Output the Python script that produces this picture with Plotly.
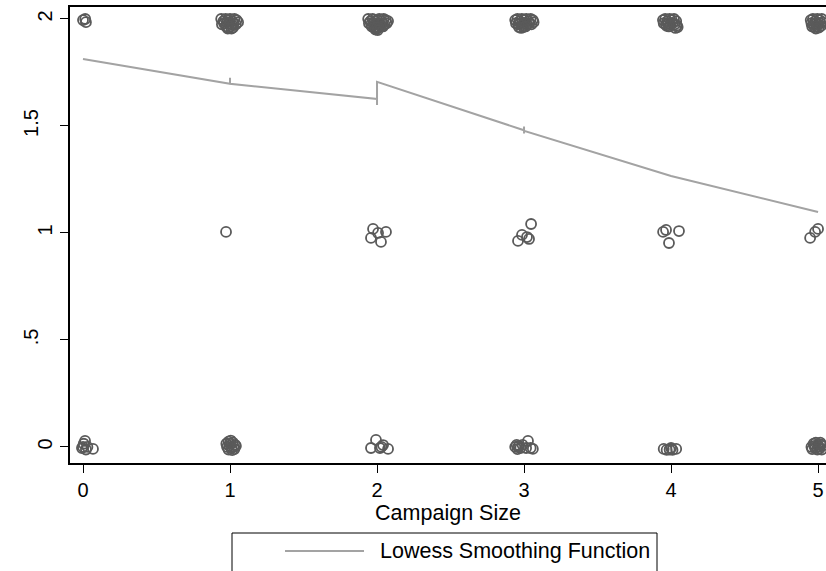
import plotly.graph_objects as go

# Observed outcomes (0, 1, 2) plotted against campaign size, with jitter
zero_x = [0.014, 0.0, 0.068, 0.02, -0.007, 0.005, 0.03,
          0.975, 0.99, 1.005, 1.02, 1.035, 0.98, 0.995, 1.01, 1.025, 1.04, 0.99, 1.015, 1.0, 1.03,
          1.993, 1.959, 2.02, 2.075, 2.041, 2.03,
          2.94, 2.95, 2.955, 2.965, 2.975, 2.96, 3.027, 3.014, 3.045, 3.06, 2.99,
          3.95, 3.97, 3.99, 4.01, 4.035, 4.0,
          4.955, 4.97, 4.985, 5.0, 5.015, 5.03, 4.96, 4.98, 4.995, 5.01, 5.025, 4.975, 5.005, 5.02]
zero_y = [0.028, 0.0, -0.009, -0.012, -0.005, 0.015, 0.0,
          0.015, 0.025, 0.03, 0.02, 0.01, 0.0, 0.005, -0.005, 0.0, 0.005, -0.012, -0.015, 0.015, -0.01,
          0.033, -0.005, -0.005, -0.009, 0.009, 0.0,
          0.0, 0.01, -0.01, 0.005, -0.005, 0.0, 0.028, -0.005, -0.005, -0.009, 0.01,
          -0.009, -0.014, -0.012, -0.014, -0.009, -0.005,
          0.0, 0.015, 0.02, 0.01, 0.02, 0.005, -0.01, -0.005, -0.012, -0.008, -0.012, 0.005, 0.0, 0.012]

one_x = [0.973,
         1.973, 1.959, 2.061, 2.027, 2.007,
         3.048, 2.959, 2.986, 3.020, 3.034,
         3.946, 3.966, 4.054, 3.986,
         4.946, 4.980, 5.0]
one_y = [1.005,
         1.019, 0.977, 1.005, 0.958, 1.0,
         1.042, 0.963, 0.991, 0.981, 0.972,
         1.005, 1.014, 1.009, 0.953,
         0.977, 1.005, 1.019]

two_x = [0.0, 0.02, 0.015,
         0.94, 0.955, 0.97, 0.985, 1.0, 1.015, 1.03, 1.045, 1.055, 0.945, 0.96, 0.98, 0.995, 1.01,
         1.025, 1.04, 0.975, 0.99, 1.005, 1.02, 0.985, 1.01,
         1.94, 1.955, 1.97, 1.985, 2.0, 2.015, 2.03, 2.045, 2.06, 2.075, 1.945, 1.96, 1.975, 1.99,
         2.005, 2.02, 2.035, 2.05, 2.065, 1.965, 1.98, 1.995, 2.01, 2.025, 2.04, 1.99, 2.005, 2.0,
         2.94, 2.955, 2.97, 2.985, 3.0, 3.015, 3.03, 3.045, 3.06, 3.065, 2.945, 2.96, 2.975, 2.99,
         3.005, 3.02, 3.035, 3.05, 2.965, 2.98, 2.995, 3.01,
         3.945, 3.96, 3.975, 3.99, 4.005, 4.02, 4.035, 3.95, 3.965, 3.98, 3.995, 4.01, 4.025, 4.04,
         4.03, 4.045, 3.985, 3.97,
         4.95, 4.965, 4.98, 4.995, 5.01, 5.025, 4.955, 4.97, 4.985, 5.0, 5.015, 5.03, 4.96, 4.975,
         4.99, 5.005, 5.02, 4.985]
two_y = [1.995, 1.985, 2.0,
         2.0, 1.99, 2.0, 1.995, 2.0, 1.99, 2.0, 1.995, 1.985, 1.975, 1.98, 1.985, 1.98, 1.975,
         1.98, 1.975, 1.965, 1.96, 1.965, 1.96, 1.955, 1.955,
         2.0, 1.99, 2.0, 1.99, 1.995, 2.0, 1.99, 2.0, 1.995, 1.99, 1.98, 1.975, 1.98, 1.975,
         1.98, 1.975, 1.98, 1.975, 1.98, 1.965, 1.96, 1.955, 1.96, 1.965, 1.965, 1.95, 1.948, 1.962,
         1.995, 2.0, 1.99, 2.0, 1.995, 2.0, 1.99, 2.0, 1.995, 1.985, 1.98, 1.975, 1.98, 1.97,
         1.98, 1.975, 1.98, 1.975, 1.962, 1.958, 1.962, 1.965,
         1.995, 2.0, 1.99, 2.0, 1.995, 2.0, 1.99, 1.98, 1.975, 1.98, 1.975, 1.98, 1.975, 1.97,
         1.958, 1.962, 1.965, 1.968,
         1.995, 2.0, 1.99, 2.0, 1.995, 2.0, 1.98, 1.975, 1.98, 1.975, 1.98, 1.985, 1.965, 1.962,
         1.965, 1.96, 1.968, 1.955]

# Lowess fit evaluated at each observation (tied x values give small vertical steps)
lowess_x = [0, 1, 1, 1, 2, 2, 2, 3, 3, 3, 3, 4, 5]
lowess_y = [1.813, 1.697, 1.725, 1.697, 1.626, 1.598, 1.706, 1.48, 1.497, 1.465, 1.477, 1.266, 1.098]

x_tick_vals = [0, 1, 2, 3, 4, 5]
y_tick_vals = [0, 0.5, 1, 1.5, 2]
y_tick_text = ["0", ".5", "1", "1.5", "2"]

FONT = "Liberation Sans, Arial, sans-serif"
MARKER_COLOR = "#5a5a5a"
LINE_COLOR = "#a3a3a3"

fig = go.Figure()

fig.add_trace(go.Scatter(
    x=zero_x + one_x + two_x,
    y=zero_y + one_y + two_y,
    mode="markers",
    marker=dict(symbol="circle-open", size=10, color=MARKER_COLOR,
                line=dict(width=1.8, color=MARKER_COLOR)),
    showlegend=False,
    hoverinfo="x+y",
))

fig.add_trace(go.Scatter(
    x=lowess_x, y=lowess_y,
    mode="lines",
    line=dict(color=LINE_COLOR, width=2),
    name="Lowess Smoothing Function",
    showlegend=False,
    yaxis="y2",
))

y_range = [-0.075, 2.056]

# Alternate the y labels: whole numbers close to the axis, halves set further out
main_text = [t if v in (0, 1, 2) else "" for v, t in zip(y_tick_vals, y_tick_text)]
half_vals = [v for v in y_tick_vals if v not in (0, 1, 2)]
half_text = [t for v, t in zip(y_tick_vals, y_tick_text) if v not in (0, 1, 2)]

fig.update_layout(
    width=826, height=571,
    autosize=False,
    margin=dict(l=70, r=0, t=7, b=108),
    paper_bgcolor="white",
    plot_bgcolor="white",
    font=dict(family=FONT, color="black", size=20),
    xaxis=dict(
        range=[-0.0884, 5.054],
        tickvals=x_tick_vals,
        ticks="outside", ticklen=8, tickwidth=1, tickcolor="black",
        showline=True, linecolor="black", linewidth=1.5, mirror=True,
        showgrid=False, zeroline=False,
        tickfont=dict(size=20),
        title=dict(text="Campaign Size", font=dict(size=21.5), standoff=0),
    ),
    yaxis=dict(
        range=y_range,
        tickvals=y_tick_vals, ticktext=main_text,
        tickangle=-90,
        ticks="outside", ticklen=8, tickwidth=1, tickcolor="black",
        showline=True, linecolor="black", linewidth=1.5,
        showgrid=False, zeroline=False,
        tickfont=dict(size=20),
    ),
    yaxis2=dict(
        range=y_range, overlaying="y", side="left",
        tickvals=half_vals, ticktext=half_text,
        tickangle=-90,
        ticks="", showline=False, showgrid=False, zeroline=False,
        ticklabelstandoff=27,
        tickfont=dict(size=20),
    ),
    showlegend=False,
)

# Legend box drawn below the axis title
def px_x(p):
    return (p - 70) / 756

def px_y(p):
    return (463 - p) / 456

fig.add_shape(type="rect", xref="paper", yref="paper",
              x0=px_x(232), x1=px_x(657), y0=px_y(600), y1=px_y(533),
              line=dict(color="black", width=1), fillcolor="white", layer="below")
fig.add_shape(type="line", xref="paper", yref="paper",
              x0=px_x(285), x1=px_x(364), y0=px_y(551), y1=px_y(551),
              line=dict(color=LINE_COLOR, width=2))
fig.add_annotation(text="Lowess Smoothing Function", xref="paper", yref="paper",
                   x=px_x(378), y=px_y(551), xanchor="left", yanchor="middle",
                   showarrow=False, font=dict(size=21.5, family=FONT, color="black"))

fig.write_html("out.html")
